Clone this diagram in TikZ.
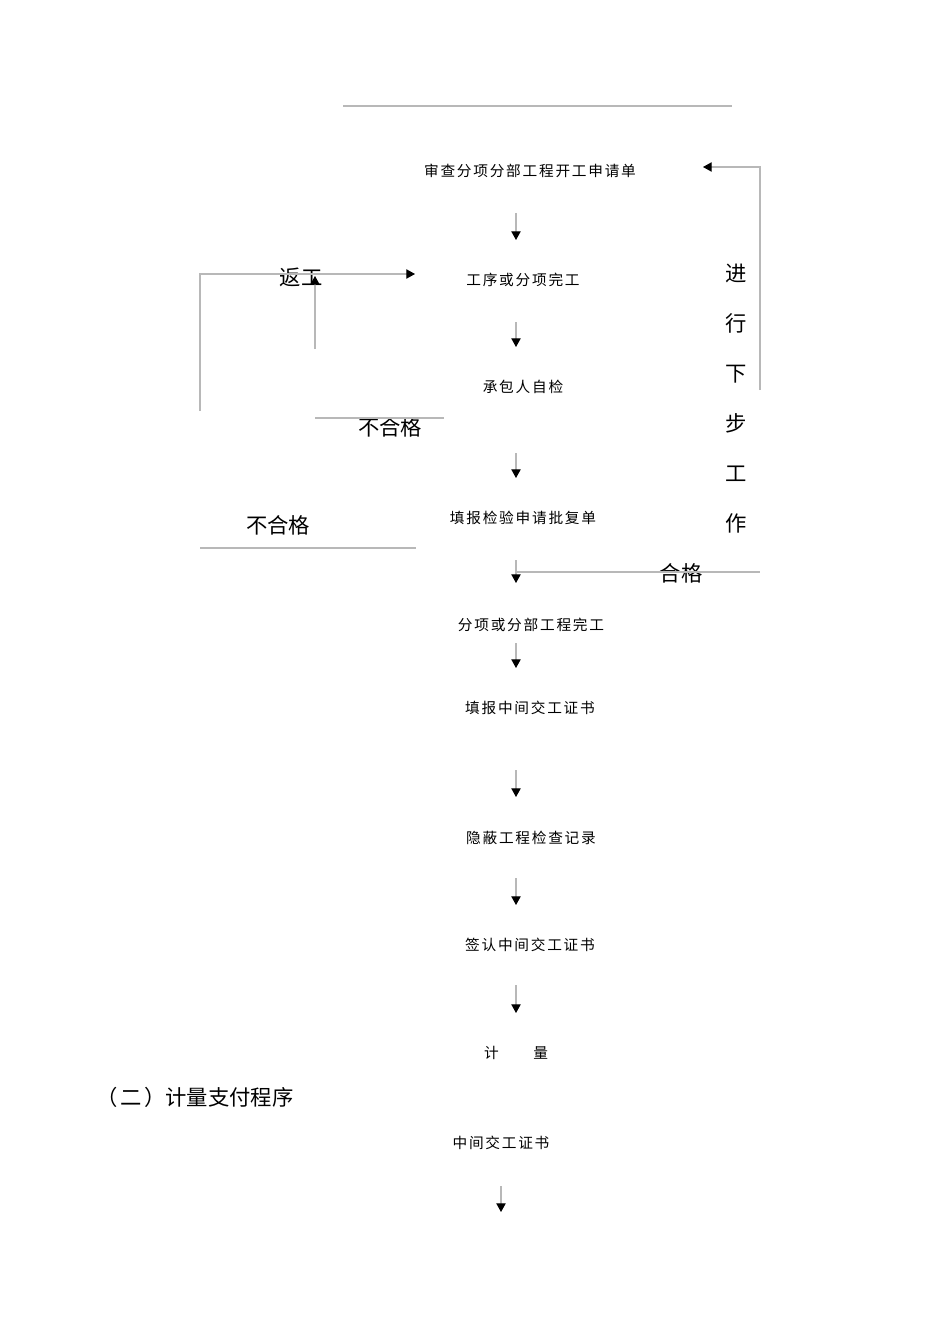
\documentclass[tikz,border=0pt]{standalone}
\usepackage{fontspec}
\newfontfamily\cjk{Noto Sans CJK SC}
\newfontfamily\cjksp[LetterSpace=12]{Noto Sans CJK SC}
\usetikzlibrary{arrows.meta}

\begin{document}
\begin{tikzpicture}[x=0.75pt,y=-0.75pt,
                    stage node/.style={inner sep=1pt,font=\cjksp\fontsize{11}{13}\selectfont},
                    big label/.style={inner sep=0pt,font=\cjk\fontsize{16}{19}\selectfont},
                    thin line/.style={draw=black!28,line width=0.8pt},
                    flow/.style={thin line,-{Triangle[width=7pt,length=6.5pt,color=black]}}]

  \useasboundingbox (0,0) rectangle (950,1344);

  \draw[thin line] (343,106) -- (732,106);

  \node[stage node] (t1) at (530,171) {审查分项分部工程开工申请单};
  \node[stage node] (t2) at (523,280) {工序或分项完工};
  \node[stage node] (t3) at (523,387) {承包人自检};
  \node[stage node] (t4) at (523,518) {填报检验申请批复单};
  \node[stage node] (t5) at (531,625) {分项或分部工程完工};
  \node[stage node] (t6) at (530,708) {填报中间交工证书};
  \node[stage node] (t7) at (531,838) {隐蔽工程检查记录};
  \node[stage node] (t8) at (530,945) {签认中间交工证书};
  \node[stage node] (t9) at (516,1053) {计　　量};
  \node[big label, anchor=west] (sec2) at (96,1097) {（\hspace{2pt}二\hspace{2pt}）计量支付程序};
  \node[stage node] (t10) at (501,1143) {中间交工证书};

  \node[big label] (rework) at (301,277) {返工};
  \node[big label] (failA) at (390,427) {不合格};
  \node[big label] (failB) at (278,525) {不合格};
  \node[big label] (pass) at (681,573) {合格};
  \node[big label, align=center, font=\cjk\fontsize{16}{37.5}\selectfont] (next) at (736,399)
       {进\\行\\下\\步\\工\\作};

  % arrows down the main line
  \foreach \n/\xa/\ya/\yb in {1/516/213/240, 2/516/322/347, 3/516/453/478, 4/516/560/583,
                              5/516/643/668, 6/516/770/797, 7/516/878/905, 8/516/985/1013,
                              9/501/1186/1212}
  {
    \coordinate (a\n) at (\xa,\ya);
    \coordinate (b\n) at (\xa,\yb);
    \draw[flow] (a\n) -- (b\n);
  }

  % rework loops
  \coordinate (rwS) at (315,349);
  \coordinate (rwE) at (315,276);
  \draw[flow] (rwS) -- (rwE);
  \coordinate (fA1) at (315,418);
  \coordinate (fA2) at (444,418);
  \draw[thin line] (fA1) -- (fA2);
  \coordinate (oB) at (200,411);
  \coordinate (oT) at (200,274);
  \coordinate (oE) at (415,274);
  \draw[flow] (oB) -- (oT) -- (oE);
  \coordinate (fB1) at (200,548);
  \coordinate (fB2) at (416,548);
  \draw[thin line] (fB1) -- (fB2);

  % next step loop
  \coordinate (okL) at (516,572);
  \coordinate (okR) at (760,572);
  \draw[thin line] (okL) -- (okR);
  \coordinate (rB) at (760,390);
  \coordinate (rE) at (703,167);
  \draw[flow] (rB) |- (rE);

\end{tikzpicture}
\end{document}
